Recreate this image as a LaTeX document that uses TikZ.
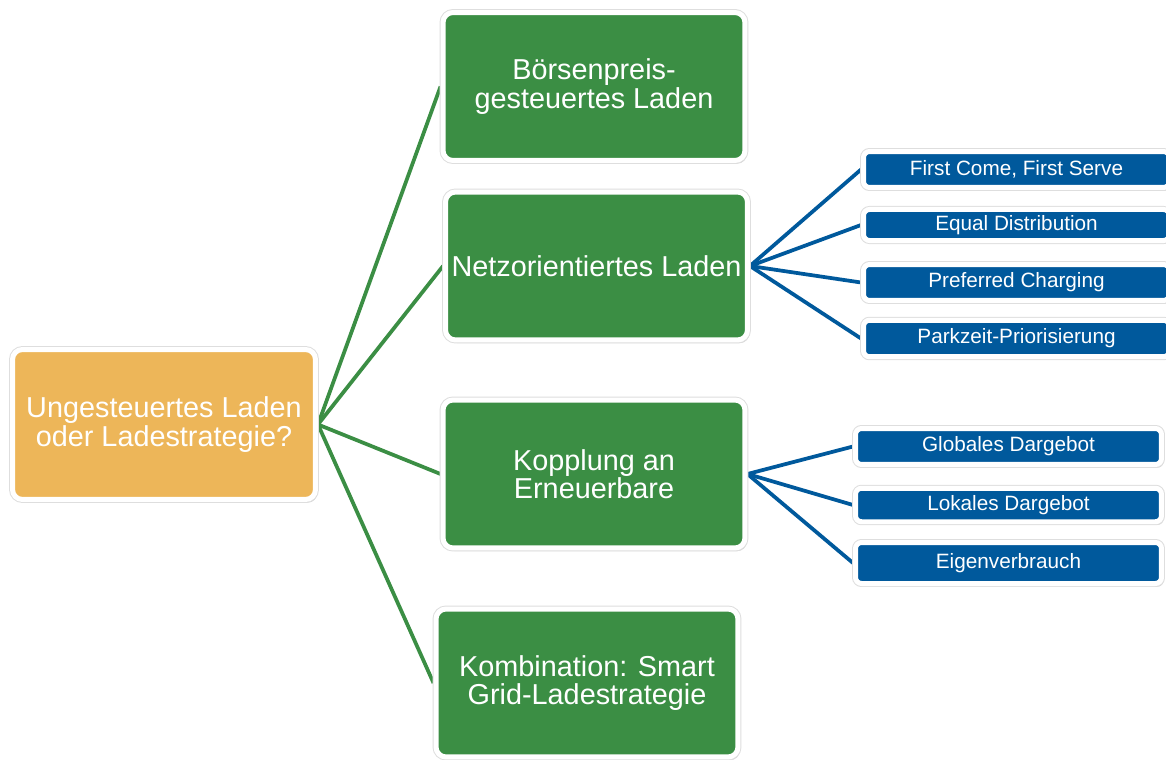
\documentclass[tikz,border=0pt]{standalone}
\usepackage{fontspec}
\setmainfont{Liberation Sans}
\usetikzlibrary{shadows,backgrounds}

\definecolor{ladeorange}{RGB}{237,182,89}
\definecolor{ladegruen}{RGB}{59,142,68}
\definecolor{ladeblau}{RGB}{0,89,156}

\tikzset{
    kasten/.style={draw=white, line width=0.1cm, rounded corners=0.2cm, text=white, align=center,
        drop shadow={shadow xshift=1.2pt, shadow yshift=-1.8pt, opacity=0.35},
        preaction={draw=black!13, line width=0.14cm}},
    frage/.style={kasten, fill=ladeorange, minimum width=6.06cm, minimum height=3cm, font=\fontsize{16.4}{16}\selectfont},
    strategie/.style={kasten, fill=ladegruen, minimum width=6.04cm, minimum height=2.96cm, font=\fontsize{16.4}{16}\selectfont},
    variante/.style={kasten, fill=ladeblau, rounded corners=0.12cm, minimum width=6.12cm, font=\fontsize{11.8}{12}\selectfont},
    gruenlinie/.style={draw=ladegruen, line width=0.075cm},
    blaulinie/.style={draw=ladeblau, line width=0.075cm}
}

\begin{document}
\begin{tikzpicture}[x=0.02cm, y=-0.02cm]
        \clip (0,0) rectangle (1166,760);

        \node[frage] (frage) at (164,424.5) {Ungesteuertes Laden\\oder Ladestrategie?};

        \node[strategie] (boerse) at (594,86.5) {Börsenpreis-\\gesteuertes Laden};
        \node[strategie] (netz) at (596.5,266) {Netzorientiertes Laden};
        \node[strategie] (kopplung) at (594,474) {Kopplung an\\Erneuerbare};
        \node[strategie] (kombi) at (587,683) {Kombination: Smart\\Grid-Ladestrategie};

        \node[variante, minimum height=0.72cm] (fcfs) at (1016.5,169.5) {First Come, First Serve};
        \node[variante, minimum height=0.62cm] (equal) at (1016.5,225) {Equal Distribution};
        \node[variante, minimum height=0.72cm] (preferred) at (1016.5,282.5) {Preferred Charging};
        \node[variante, minimum height=0.73cm] (parkzeit) at (1016.5,338.5) {Parkzeit-Priorisierung};

        \node[variante, minimum height=0.72cm] (global) at (1008.5,446.5) {Globales Dargebot};
        \node[variante, minimum height=0.67cm] (lokal) at (1008.5,505) {Lokales Dargebot};
        \node[variante, minimum height=0.82cm] (eigen) at (1008.5,563) {Eigenverbrauch};

        \begin{scope}[on background layer]
            \foreach \ziel in {boerse, netz, kopplung, kombi}
                \draw[gruenlinie] (frage.east) -- (\ziel.west);
            \foreach \ziel in {fcfs, equal, preferred, parkzeit}
                \draw[blaulinie] (netz.east) -- (\ziel.west);
            \foreach \ziel in {global, lokal, eigen}
                \draw[blaulinie] (kopplung.east) -- (\ziel.west);
        \end{scope}
    \end{tikzpicture}
\end{document}
